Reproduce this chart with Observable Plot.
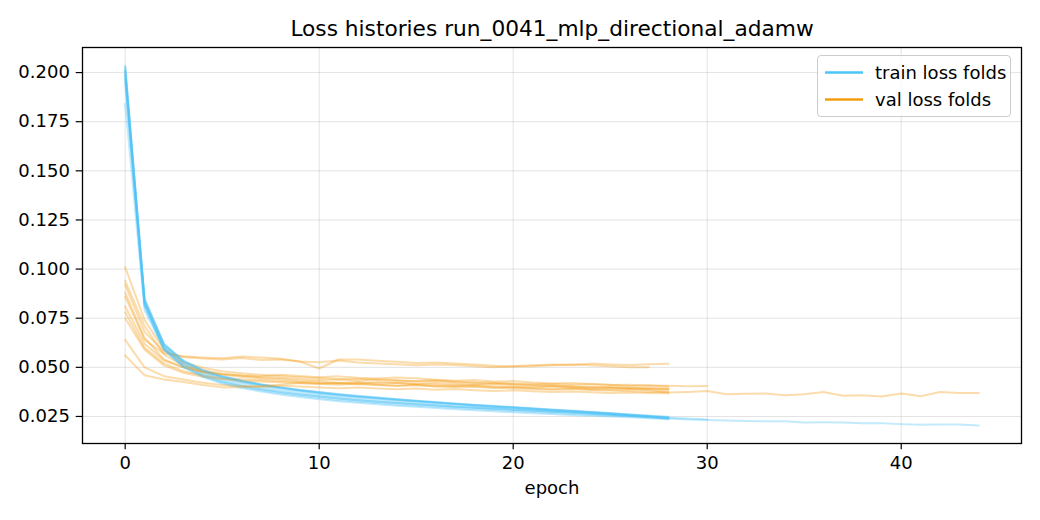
<!DOCTYPE html>
<html>
<head>
<meta charset="utf-8">
<script src="https://cdn.jsdelivr.net/npm/d3@7"></script>
<script src="https://cdn.jsdelivr.net/npm/@observablehq/plot@0.6"></script>
<style>
  body { margin: 0; background: #fff; }
  #wrap { position: relative; width: 1040px; height: 520px; font-family: "DejaVu Sans", sans-serif; }
  #legend { position: absolute; left: 817px; top: 55px; width: 194px; height: 62px;
            border: 1.3px solid #cccccc; border-radius: 4px; background: rgba(255,255,255,0.8);
            box-sizing: border-box; }
</style>
</head>
<body>
<div id="wrap"></div>
<script>
const titleText = "Loss histories run_0041_mlp_directional_adamw";
const xLabel = "epoch";
const seriesNames = ["train loss folds", "val loss folds"];
const seriesColors = ["#4fc3f7", "#f39c12"];
const epochTicks = [0, 10, 20, 30, 40];
const lossTicks = [0.025, 0.050, 0.075, 0.100, 0.125, 0.150, 0.175, 0.200];

// train loss per fold (index = epoch)
const trainLoss = [
  [0.2036,0.0845,0.0615,0.0530,0.0483,0.0452,0.0430,0.0412,0.0397,0.0383,0.0372,0.0362,0.0353,0.0345,0.0337,0.0330,0.0323,0.0316,0.0310,0.0304,0.0298,0.0292,0.0286,0.0280,0.0274,0.0267,0.0260,0.0253,0.0246],
  [0.2010,0.0830,0.0605,0.0522,0.0476,0.0446,0.0425,0.0408,0.0393,0.0379,0.0367,0.0357,0.0349,0.0341,0.0333,0.0326,0.0319,0.0312,0.0306,0.0300,0.0294,0.0288,0.0282,0.0277,0.0270,0.0263,0.0256,0.0249],
  [0.1840,0.0790,0.0590,0.0505,0.0458,0.0428,0.0406,0.0389,0.0375,0.0362,0.0351,0.0341,0.0333,0.0325,0.0318,0.0312,0.0306,0.0300,0.0294,0.0289,0.0284,0.0279,0.0274,0.0270,0.0265,0.0260,0.0254,0.0247,0.0240,0.0234,0.0232,0.0229,0.0227,0.0225,0.0225,0.0219,0.0220,0.0219,0.0216,0.0216,0.0211,0.0208,0.0209,0.0209,0.0204],
  [0.1950,0.0810,0.0600,0.0518,0.0470,0.0440,0.0418,0.0400,0.0384,0.0370,0.0358,0.0348,0.0339,0.0331,0.0323,0.0316,0.0309,0.0302,0.0297,0.0291,0.0286,0.0281,0.0276,0.0271,0.0266,0.0260,0.0255,0.0250,0.0244,0.0239,0.0234],
  [0.2020,0.0840,0.0612,0.0528,0.0481,0.0450,0.0428,0.0410,0.0395,0.0381,0.0369,0.0358,0.0349,0.0341,0.0334,0.0327,0.0320,0.0313,0.0306,0.0300,0.0294,0.0288,0.0282,0.0276,0.0270,0.0264,0.0257,0.0250,0.0243],
  [0.1990,0.0825,0.0600,0.0512,0.0463,0.0431,0.0408,0.0390,0.0375,0.0362,0.0351,0.0341,0.0333,0.0325,0.0318,0.0312,0.0306,0.0300,0.0294,0.0289,0.0284,0.0279,0.0274,0.0269,0.0264,0.0259,0.0253,0.0247,0.0240],
  [0.2005,0.0835,0.0618,0.0535,0.0487,0.0456,0.0433,0.0414,0.0398,0.0385,0.0374,0.0364,0.0355,0.0346,0.0338,0.0330,0.0322,0.0315,0.0308,0.0302,0.0296,0.0290,0.0284,0.0278,0.0272,0.0266,0.0260,0.0254,0.0248],
  [0.1970,0.0815,0.0590,0.0500,0.0450,0.0418,0.0395,0.0377,0.0362,0.0349,0.0338,0.0328,0.0320,0.0312,0.0305,0.0299,0.0293,0.0287,0.0281,0.0276,0.0271,0.0266,0.0262,0.0258,0.0254,0.0250,0.0246,0.0241,0.0236],
  [0.2030,0.0850,0.0620,0.0533,0.0484,0.0453,0.0431,0.0413,0.0398,0.0385,0.0373,0.0362,0.0352,0.0344,0.0336,0.0328,0.0321,0.0314,0.0307,0.0301,0.0295,0.0289,0.0283,0.0277,0.0271,0.0265,0.0258,0.0251,0.0244],
  [0.1985,0.0820,0.0592,0.0505,0.0455,0.0423,0.0400,0.0383,0.0368,0.0355,0.0344,0.0334,0.0326,0.0318,0.0311,0.0305,0.0299,0.0293,0.0288,0.0283,0.0278,0.0273,0.0268,0.0263,0.0259,0.0255,0.0250,0.0245,0.0238]
];

// val loss per fold (index = epoch)
const valLoss = [
  [0.0920,0.0680,0.0580,0.0552,0.0545,0.0540,0.0548,0.0537,0.0540,0.0530,0.0526,0.0535,0.0525,0.0520,0.0516,0.0510,0.0515,0.0512,0.0506,0.0500,0.0505,0.0510,0.0515,0.0511,0.0520,0.0515,0.0512,0.0516,0.0518],
  [0.0860,0.0640,0.0570,0.0556,0.0550,0.0546,0.0555,0.0550,0.0544,0.0530,0.0494,0.0540,0.0540,0.0533,0.0528,0.0522,0.0525,0.0519,0.0514,0.0508,0.0504,0.0506,0.0510,0.0516,0.0511,0.0505,0.0500,0.0500],
  [0.0780,0.0600,0.0520,0.0480,0.0460,0.0445,0.0440,0.0436,0.0430,0.0426,0.0420,0.0418,0.0414,0.0411,0.0406,0.0410,0.0402,0.0405,0.0400,0.0396,0.0399,0.0395,0.0390,0.0394,0.0389,0.0386,0.0389,0.0384,0.0372,0.0375,0.0379,0.0363,0.0365,0.0367,0.0358,0.0363,0.0374,0.0355,0.0358,0.0352,0.0367,0.0353,0.0374,0.0369,0.0369],
  [0.1010,0.0740,0.0590,0.0525,0.0498,0.0480,0.0470,0.0462,0.0455,0.0450,0.0446,0.0440,0.0442,0.0436,0.0432,0.0430,0.0434,0.0428,0.0424,0.0422,0.0418,0.0415,0.0417,0.0412,0.0414,0.0410,0.0411,0.0408,0.0406,0.0404,0.0405],
  [0.0940,0.0710,0.0565,0.0510,0.0485,0.0468,0.0458,0.0450,0.0446,0.0440,0.0435,0.0438,0.0432,0.0440,0.0434,0.0428,0.0430,0.0424,0.0420,0.0418,0.0415,0.0410,0.0405,0.0402,0.0400,0.0398,0.0395,0.0392,0.0390],
  [0.0880,0.0650,0.0540,0.0500,0.0475,0.0462,0.0452,0.0445,0.0440,0.0432,0.0428,0.0420,0.0425,0.0418,0.0422,0.0415,0.0412,0.0408,0.0410,0.0404,0.0400,0.0398,0.0402,0.0396,0.0392,0.0395,0.0390,0.0388,0.0385],
  [0.0810,0.0620,0.0535,0.0500,0.0478,0.0465,0.0458,0.0455,0.0462,0.0456,0.0450,0.0454,0.0447,0.0443,0.0448,0.0444,0.0437,0.0432,0.0435,0.0428,0.0430,0.0423,0.0418,0.0420,0.0415,0.0411,0.0405,0.0407,0.0402],
  [0.0750,0.0590,0.0510,0.0472,0.0452,0.0440,0.0432,0.0428,0.0424,0.0420,0.0416,0.0412,0.0418,0.0410,0.0406,0.0410,0.0404,0.0400,0.0405,0.0398,0.0394,0.0390,0.0386,0.0390,0.0385,0.0382,0.0378,0.0375,0.0374],
  [0.0640,0.0500,0.0455,0.0438,0.0422,0.0410,0.0405,0.0400,0.0406,0.0402,0.0398,0.0394,0.0398,0.0392,0.0388,0.0392,0.0386,0.0390,0.0384,0.0380,0.0383,0.0378,0.0375,0.0377,0.0373,0.0370,0.0372,0.0369,0.0368],
  [0.0560,0.0460,0.0438,0.0425,0.0410,0.0398,0.0400,0.0405,0.0412,0.0420,0.0416,0.0422,0.0418,0.0425,0.0420,0.0416,0.0420,0.0415,0.0412,0.0416,0.0410,0.0406,0.0408,0.0402,0.0398,0.0400,0.0396,0.0394,0.0392]
];

const toRows = (arr) => arr.map((loss, epoch) => ({epoch, loss}));

const allVals = trainLoss.flat().concat(valLoss.flat());
const maxEpoch = d3.max(trainLoss.concat(valLoss), a => a.length - 1);
const yMin = d3.min(allVals), yMax = d3.max(allVals);
const xPad = maxEpoch * 0.05, yPad = (yMax - yMin) * 0.05;

const lineMarks = [];
trainLoss.forEach((tr, i) => {
  lineMarks.push(Plot.line(toRows(tr), {x: "epoch", y: "loss", stroke: seriesColors[0], strokeOpacity: 0.35, strokeWidth: 2}));
  lineMarks.push(Plot.line(toRows(valLoss[i]), {x: "epoch", y: "loss", stroke: seriesColors[1], strokeOpacity: 0.35, strokeWidth: 2}));
});

const chart = Plot.plot({
  width: 1040,
  height: 520,
  marginLeft: 82,
  marginRight: 19,
  marginTop: 47,
  marginBottom: 77,
  style: {fontFamily: "DejaVu Sans, sans-serif", fontSize: "18px", color: "#000", background: "#fff"},
  x: {domain: [-xPad, maxEpoch + xPad]},
  y: {domain: [yMin - yPad, yMax + yPad]},
  marks: [
    Plot.gridX(epochTicks, {stroke: "#b0b0b0", strokeOpacity: 0.35, strokeWidth: 1}),
    Plot.gridY(lossTicks, {stroke: "#b0b0b0", strokeOpacity: 0.35, strokeWidth: 1}),
    ...lineMarks,
    Plot.axisX(epochTicks, {tickSize: 6.3, tickPadding: 6.3, tickFormat: d => String(d), label: null, strokeWidth: 1.2}),
    Plot.axisY(lossTicks, {tickSize: 6.3, tickPadding: 6.3, tickFormat: d3.format(".3f"), label: null, strokeWidth: 1.2}),
    Plot.frame({stroke: "#000", strokeWidth: 1.3}),
    Plot.text([titleText], {frameAnchor: "top", lineAnchor: "middle", dy: -18, fontSize: 21.7, fill: "#000"}),
    Plot.text([xLabel], {frameAnchor: "bottom", lineAnchor: "middle", dy: 45, fontSize: 18, fill: "#000"})
  ]
});

const wrap = document.getElementById("wrap");
wrap.appendChild(chart);

// legend
const legend = document.createElement("div");
legend.id = "legend";
const ns = "http://www.w3.org/2000/svg";
const lsvg = document.createElementNS(ns, "svg");
lsvg.setAttribute("width", "192");
lsvg.setAttribute("height", "60");
lsvg.style.position = "absolute";
lsvg.style.left = "0";
lsvg.style.top = "0";
seriesNames.forEach((name, i) => {
  const cy = 16.5 + i * 27;
  const ln = document.createElementNS(ns, "line");
  ln.setAttribute("x1", "7"); ln.setAttribute("x2", "45");
  ln.setAttribute("y1", cy); ln.setAttribute("y2", cy);
  ln.setAttribute("stroke", seriesColors[i]);
  ln.setAttribute("stroke-width", "2.6");
  lsvg.appendChild(ln);
  const tx = document.createElementNS(ns, "text");
  tx.setAttribute("x", "57");
  tx.setAttribute("y", cy + 6.2);
  tx.setAttribute("font-family", "DejaVu Sans, sans-serif");
  tx.setAttribute("font-size", "18");
  tx.setAttribute("fill", "#000");
  tx.textContent = name;
  lsvg.appendChild(tx);
});
legend.appendChild(lsvg);
wrap.appendChild(legend);
</script>
</body>
</html>
